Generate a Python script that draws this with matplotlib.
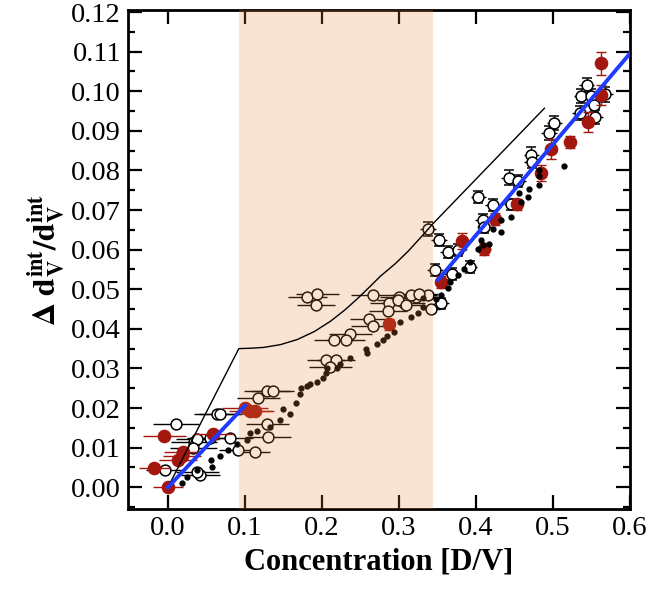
import numpy as np
import matplotlib
matplotlib.use("Agg")
import matplotlib.pyplot as plt
from matplotlib.ticker import MultipleLocator

plt.rcParams["font.family"] = ["Liberation Serif", "DejaVu Serif"]
plt.rcParams["mathtext.fontset"] = "stix"

# open circles, low concentration (horizontal error bars)
open_lo_x = [0.010, 0.034, 0.038, 0.033, 0.064, 0.068, 0.081, 0.055, 0.042, 0.038,
             -0.004, 0.091, 0.113, 0.129, 0.130, 0.117, 0.129, 0.136, 0.181, 0.194,
             0.192, 0.266, 0.300, 0.287, 0.322, 0.306, 0.261, 0.266, 0.286, 0.237,
             0.231, 0.215, 0.205, 0.218, 0.211, 0.299, 0.309, 0.338, 0.316, 0.326,
             0.342]
open_lo_y = [0.0160, 0.0113, 0.0123, 0.0100, 0.0185, 0.0185, 0.0125, 0.0125, 0.0030, 0.0038,
             0.0043, 0.0093, 0.0088, 0.0160, 0.0128, 0.0226, 0.0243, 0.0243, 0.0481, 0.0489,
             0.0461, 0.0486, 0.0481, 0.0464, 0.0481, 0.0464, 0.0424, 0.0406, 0.0444, 0.0386,
             0.0371, 0.0371, 0.0321, 0.0321, 0.0303, 0.0474, 0.0461, 0.0486, 0.0486, 0.0489,
             0.0451]
open_lo_xerr = [0.030, 0.030, 0.028, 0.030, 0.030, 0.028, 0.030, 0.030, 0.025, 0.028,
                0.025, 0.025, 0.020, 0.028, 0.030, 0.028, 0.030, 0.028, 0.025, 0.028,
                0.025, 0.028, 0.025, 0.025, 0.025, 0.028, 0.025, 0.028, 0.025, 0.028,
                0.025, 0.025, 0.025, 0.025, 0.028, 0.028, 0.025, 0.012, 0.025, 0.025,
                0.012]

# open circles, high concentration (vertical error bars)
open_hi_x = [0.355, 0.338, 0.352, 0.364, 0.377, 0.347, 0.369, 0.392, 0.403, 0.422,
             0.409, 0.411, 0.446, 0.443, 0.455, 0.472, 0.473, 0.495, 0.502, 0.537,
             0.544, 0.550, 0.535, 0.553, 0.555, 0.568]
open_hi_y = [0.0464, 0.0652, 0.0624, 0.0594, 0.0599, 0.0549, 0.0539, 0.0556, 0.0732, 0.0712,
             0.0674, 0.0657, 0.0714, 0.0782, 0.0774, 0.0840, 0.0820, 0.0895, 0.0920, 0.0987,
             0.1015, 0.0987, 0.0945, 0.0965, 0.0935, 0.0992]
open_hi_yerr = [0.0015, 0.0018, 0.0015, 0.0015, 0.0015, 0.0015, 0.0015, 0.0015, 0.0015, 0.0015,
                0.0015, 0.0015, 0.0015, 0.0018, 0.0015, 0.0018, 0.0015, 0.0018, 0.0018, 0.0018,
                0.0018, 0.0018, 0.0018, 0.0018, 0.0018, 0.0018]

# red filled circles
red_x = [0.000, -0.018, -0.005, 0.013, 0.018, 0.020, 0.059, 0.100, 0.107, 0.113,
         0.287, 0.355, 0.382, 0.411, 0.425, 0.454, 0.484, 0.498, 0.522, 0.546,
         0.562, 0.562]
red_y = [0.0000, 0.0048, 0.0130, 0.0068, 0.0080, 0.0088, 0.0135, 0.0200, 0.0193, 0.0193,
         0.0411, 0.0519, 0.0622, 0.0602, 0.0677, 0.0714, 0.0794, 0.0855, 0.0872, 0.0922,
         0.0990, 0.1070]
red_xerr = [0.020, 0.020, 0.028, 0.025, 0.025, 0.025, 0.025, 0.030, 0.028, 0.025,
            0.008, 0.008, 0.008, 0.008, 0.008, 0.006, 0.006, 0.006, 0.006, 0.006,
            0.006, 0.006]
red_yerr = [0.0, 0.0, 0.0, 0.0, 0.0, 0.0, 0.0, 0.0, 0.0, 0.0,
            0.0015, 0.0015, 0.0020, 0.0015, 0.0015, 0.0015, 0.0020, 0.0025, 0.0015, 0.0025,
            0.0025, 0.0030]

# small black dots
dot_x = [0.018, 0.025, 0.038, 0.056, 0.057, 0.068, 0.078, 0.089, 0.103, 0.106,
         0.116, 0.132, 0.146, 0.150, 0.158, 0.166, 0.172, 0.173, 0.180, 0.185,
         0.193, 0.202, 0.205, 0.207, 0.220, 0.224, 0.237, 0.257, 0.259, 0.272,
         0.279, 0.284, 0.293, 0.302, 0.316, 0.325, 0.331, 0.331, 0.348, 0.355,
         0.364, 0.366, 0.377, 0.385, 0.392, 0.403, 0.409, 0.417, 0.407, 0.422,
         0.433, 0.433, 0.446, 0.459, 0.468, 0.456, 0.469, 0.482, 0.482, 0.482,
         0.514]
dot_y = [0.0010, 0.0025, 0.0043, 0.0068, 0.0050, 0.0080, 0.0093, 0.0110, 0.0120, 0.0138,
         0.0143, 0.0153, 0.0170, 0.0198, 0.0185, 0.0213, 0.0236, 0.0251, 0.0256, 0.0261,
         0.0266, 0.0276, 0.0288, 0.0301, 0.0301, 0.0311, 0.0326, 0.0348, 0.0338, 0.0361,
         0.0373, 0.0381, 0.0393, 0.0416, 0.0431, 0.0439, 0.0456, 0.0479, 0.0476, 0.0486,
         0.0504, 0.0519, 0.0536, 0.0551, 0.0569, 0.0602, 0.0612, 0.0614, 0.0624, 0.0652,
         0.0644, 0.0674, 0.0682, 0.0719, 0.0732, 0.0744, 0.0752, 0.0764, 0.0787, 0.0802,
         0.0810]

# thin model curve
curve_x = [0.0, 0.092, 0.108, 0.124, 0.146, 0.168, 0.190, 0.211, 0.230, 0.246,
           0.262, 0.276, 0.295, 0.312, 0.328, 0.344, 0.489]
curve_y = [0.0, 0.0350, 0.0351, 0.0353, 0.0360, 0.0373, 0.0393, 0.0419, 0.0448, 0.0476,
           0.0506, 0.0533, 0.0564, 0.0596, 0.0630, 0.0665, 0.0957]

# blue linear fits
fit_lo_x = [0.0, 0.100]
fit_lo_y = [0.0, 0.0206]
fit_hi_x = [0.351, 0.600]
fit_hi_y = [0.0524, 0.1095]

band = [0.092, 0.344]

fig = plt.figure(figsize=(6.48, 5.9), dpi=100)
ax = fig.add_axes([0.1975, 0.1373, 0.7745, 0.8457])

red = "#A3170E"

ax.errorbar(open_lo_x, open_lo_y, xerr=open_lo_xerr, fmt="o", ms=7.8, mfc="white",
            mec="black", mew=1.1, ecolor="black", elinewidth=1.0, capsize=0, zorder=3)
ax.errorbar(open_hi_x, open_hi_y, xerr=0.01, fmt="none", ecolor="black",
            elinewidth=1.0, capsize=0, zorder=3)
ax.errorbar(open_hi_x, open_hi_y, yerr=open_hi_yerr, fmt="o", ms=7.8, mfc="white",
            mec="black", mew=1.1, ecolor="black", elinewidth=1.0, capsize=3.5, zorder=3)

ax.errorbar(red_x, red_y, xerr=red_xerr, fmt="none", ecolor=red, elinewidth=1.0,
            capsize=0, zorder=4)
ax.errorbar(red_x, red_y, yerr=red_yerr, fmt="o", ms=8.8, mfc=red, mec=red,
            ecolor=red, elinewidth=1.0, capsize=3.5, zorder=4)

ax.plot(dot_x, dot_y, "o", ms=3.5, color="black", zorder=5)

ax.plot(curve_x, curve_y, color="black", lw=1.0, zorder=6)
ax.plot(fit_lo_x, fit_lo_y, color="#1F3BFF", lw=2.8, zorder=6)
ax.plot(fit_hi_x, fit_hi_y, color="#1F3BFF", lw=2.8, zorder=6)

ax.axvspan(band[0], band[1], color="#E8833A", alpha=0.22, lw=0, zorder=5.5)

ax.set_xlim(-0.052, 0.6)
ax.set_ylim(-0.0055, 0.1205)
ax.yaxis.set_minor_locator(MultipleLocator(0.005))
ax.set_xticks(np.arange(0.0, 0.61, 0.1))
ax.set_xticklabels(["0.0", "0.1", "0.2", "0.3", "0.4", "0.5", "0.6"])
ax.set_yticks(np.arange(0.0, 0.121, 0.01))
ax.set_yticklabels(["%.2f" % v for v in np.arange(0.0, 0.121, 0.01)])

ax.tick_params(which="both", direction="in", top=True, right=True, labelsize=20.5, width=1.6)
ax.tick_params(which="major", length=10, pad=5)
ax.tick_params(which="minor", length=5)
for s in ax.spines.values():
    s.set_linewidth(2)

ax.set_xlabel("Concentration [D/V]", fontsize=22, fontweight="bold", labelpad=5)
ax.set_ylabel(r"$\mathbf{\Delta\ d_V^{int}/d_V^{int}}$", fontsize=23, labelpad=3)

fig.savefig("out.png", dpi=100)
